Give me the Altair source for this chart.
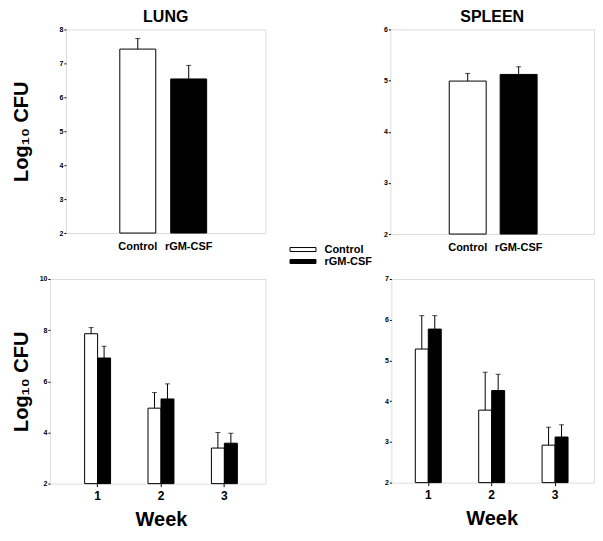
import altair as alt
import pandas as pd

FONT = "Liberation Sans, Arial, Helvetica, sans-serif"

series = ["Control", "rGM-CSF"]
fills = ["white", "black"]

# top panels (single time point)
lung_mean = [7.42, 6.54]
lung_err = [0.31, 0.40]
spleen_mean = [4.99, 5.12]
spleen_err = [0.15, 0.15]

# bottom panels (by week)
weeks = ["1", "2", "3"]
lung_ctrl_week = [7.86, 4.95, 3.39]
lung_ctrl_week_err = [0.24, 0.61, 0.61]
lung_gm_week = [6.91, 5.31, 3.58]
lung_gm_week_err = [0.46, 0.59, 0.39]
spleen_ctrl_week = [5.28, 3.78, 2.92]
spleen_ctrl_week_err = [0.82, 0.93, 0.44]
spleen_gm_week = [5.77, 4.26, 3.12]
spleen_gm_week_err = [0.33, 0.40, 0.30]

YTITLE = "Log\u2081\u2080  CFU"


def yaxis(values, title, title_pad):
    kw = dict(values=values, format="d", labelOverlap=False, grid=False, domain=False,
              tickSize=2, tickColor="black",
              labelFont=FONT, labelFontSize=7, labelFontWeight="bold", labelColor="black",
              labelPadding=1)
    if title:
        kw.update(title=title, titleFont=FONT, titleFontSize=20, titleFontWeight="bold",
                  titleColor="black", titlePadding=title_pad)
    else:
        kw.update(title=None)
    return alt.Axis(**kw)


def top_panel(title, means, errs, ydomain, yvalues, width, height, ytitle, title_pad,
              xrange, pin, legend=None):
    df = pd.DataFrame({"group": series, "mean": means,
                       "top": [m + e for m, e in zip(means, errs)]})
    xs = alt.Scale(range=xrange, paddingInner=pin, paddingOuter=pin / 2)
    xax = alt.Axis(title=None, ticks=False, domain=False, labelAngle=0,
                   labelFont=FONT, labelFontSize=11, labelFontWeight="bold",
                   labelColor="black", labelPadding=7)
    yax = yaxis(yvalues, ytitle, title_pad)
    ys = alt.Scale(domain=ydomain, nice=False, zero=False)
    base = alt.Chart(df)
    bars = base.mark_bar(stroke="black", strokeWidth=1).encode(
        x=alt.X("group:N", sort=series, scale=xs, axis=xax),
        y=alt.Y("mean:Q", scale=ys, axis=yax, stack=None),
        y2=alt.datum(ydomain[0]),
        fill=alt.Fill("group:N", scale=alt.Scale(domain=series, range=fills), legend=legend),
    )
    rule = base.mark_rule(color="black", strokeWidth=1).encode(
        x=alt.X("group:N", sort=series, axis=xax),
        y=alt.Y("mean:Q", axis=yax), y2="top:Q")
    cap = base.mark_tick(color="black", size=5, thickness=1).encode(
        x=alt.X("group:N", sort=series, axis=xax), y=alt.Y("top:Q", axis=yax))
    return alt.layer(bars, rule, cap).properties(
        width=width, height=height,
        title=alt.TitleParams(title, font=FONT, fontSize=16, fontWeight="bold",
                              color="black", offset=0, frame="group"))


def bottom_panel(ctrl, ctrl_err, gm, gm_err, ydomain, yvalues, width, height, ytitle,
                 title_pad, xrange, pin):
    rows = []
    for w, c, ce, g, ge in zip(weeks, ctrl, ctrl_err, gm, gm_err):
        rows.append({"week": w, "group": series[0], "mean": c, "top": c + ce})
        rows.append({"week": w, "group": series[1], "mean": g, "top": g + ge})
    df = pd.DataFrame(rows)
    xs = alt.Scale(range=xrange, paddingInner=pin, paddingOuter=pin / 2)
    xax = alt.Axis(title="Week", ticks=True, tickSize=3, tickColor="black",
                   domain=False, labelAngle=0, labelFont=FONT, labelFontSize=12,
                   labelFontWeight="bold", labelColor="black", labelPadding=4,
                   titleFont=FONT, titleFontSize=20, titleFontWeight="bold",
                   titleColor="black", titlePadding=8)
    yax = yaxis(yvalues, ytitle, title_pad)
    xo = alt.XOffset("group:N", sort=series,
                     scale=alt.Scale(domain=series, paddingInner=0, paddingOuter=0))
    ys = alt.Scale(domain=ydomain, nice=False, zero=False)
    base = alt.Chart(df)
    bars = base.mark_bar(stroke="black", strokeWidth=1).encode(
        x=alt.X("week:N", sort=weeks, scale=xs, axis=xax), xOffset=xo,
        y=alt.Y("mean:Q", scale=ys, axis=yax, stack=None),
        y2=alt.datum(ydomain[0]),
        fill=alt.Fill("group:N", scale=alt.Scale(domain=series, range=fills), legend=None),
    )
    rule = base.mark_rule(color="black", strokeWidth=1).encode(
        x=alt.X("week:N", sort=weeks, axis=xax), xOffset=xo,
        y=alt.Y("mean:Q", axis=yax), y2="top:Q")
    cap = base.mark_tick(color="black", size=5, thickness=1).encode(
        x=alt.X("week:N", sort=weeks, axis=xax), xOffset=xo, y=alt.Y("top:Q", axis=yax))
    return alt.layer(bars, rule, cap).properties(width=width, height=height)


legend = alt.Legend(
    title=None, orient="none", legendX=-93, legendY=215, padding=0,
    symbolType="M-6.5,-1H6.5V1H-6.5Z", symbolSize=16, symbolStrokeColor="black",
    symbolStrokeWidth=1, symbolOpacity=1, labelOffset=16, rowPadding=0,
    labelFont=FONT, labelFontSize=11, labelFontWeight="bold", labelColor="black",
)

# invisible spacer: shifts the top row 16px right of the bottom row
spacer = alt.Chart(pd.DataFrame({"s": [0]})).mark_point(opacity=0).encode(
    x=alt.value(0), y=alt.value(0)
).properties(width=1, height=1, view=alt.ViewBackground(stroke="transparent"))

lung_top = top_panel("LUNG", lung_mean, lung_err, [2, 8], [2, 3, 4, 5, 6, 7, 8],
                     200, 204, YTITLE, 28, [46.5, 148.5], 0.294)
spleen_top = top_panel("SPLEEN", spleen_mean, spleen_err, [2, 6], [2, 3, 4, 5, 6],
                       204, 205, None, 0, [52, 154], 0.2745, legend=legend)

lung_bot = bottom_panel(lung_ctrl_week, lung_ctrl_week_err, lung_gm_week, lung_gm_week_err,
                        [2, 10], [2, 4, 6, 8, 10], 216, 205, YTITLE, 8, [16, 206.5], 0.5906)
spleen_bot = bottom_panel(spleen_ctrl_week, spleen_ctrl_week_err, spleen_gm_week,
                          spleen_gm_week_err, [2, 7], [2, 3, 4, 5, 6, 7], 203, 204, None, 0,
                          [5.25, 195.75], 0.5906)

top_pair = alt.hconcat(lung_top, spleen_top, spacing=125, bounds="flush").resolve_scale(
    fill="independent").resolve_legend(fill="independent")
top = alt.hconcat(spacer, top_pair, spacing=15, bounds="flush").resolve_scale(
    fill="independent").resolve_legend(fill="independent")
bottom = alt.hconcat(lung_bot, spleen_bot, spacing=126, bounds="flush").resolve_scale(
    fill="independent").resolve_legend(fill="independent")

chart = alt.vconcat(top, bottom, spacing=6).resolve_scale(
    fill="independent").resolve_legend(fill="independent").properties(
    padding={"left": 2, "top": 0, "right": 0, "bottom": 0}
).configure_view(stroke="#555555", strokeWidth=1).configure(background="white")

chart.save("out.html", embed_options={"renderer": "svg", "actions": False})
